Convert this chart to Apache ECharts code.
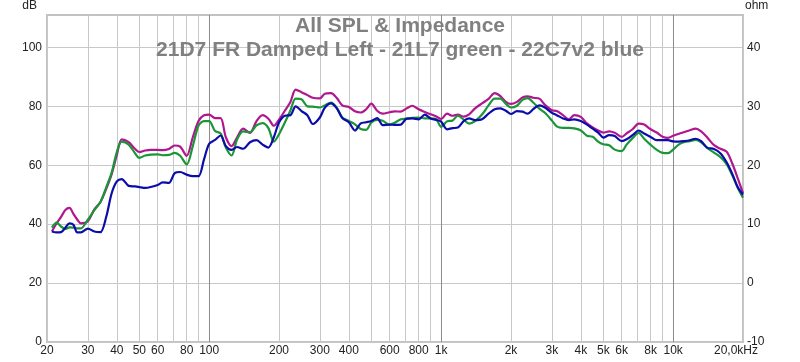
<!DOCTYPE html>
<html>
<head>
<meta charset="utf-8">
<script src="https://cdn.jsdelivr.net/npm/echarts@6/dist/echarts.min.js"></script>
<style>
html,body{margin:0;padding:0;background:#fff;}
#chart{width:800px;height:362px;}
</style>
</head>
<body>
<div id="chart"></div>
<script>
const titleLines = ['All SPL & Impedance', '21D7 FR Damped Left - 21L7 green - 22C7v2 blue'];

const freqHz = [21,22,23,24,25,26,27,28,30,32,34,36,38,40,42,45,48,50,53,56,60,63,67,71,75,80,85,90,95,
  100,106,112,118,125,132,140,150,160,170,180,190,200,212,224,236,250,265,280,300,315,335,355,375,400,425,450,475,500,530,560,600,630,670,710,750,800,850,900,950,
  1000,1060,1120,1180,1250,1320,1400,1500,1600,1700,1800,1900,2000,2120,2240,2360,2500,2650,2800,3000,3150,3350,3550,3750,4000,4250,4500,4750,5000,5300,5600,6000,6300,6700,7100,7500,8000,8500,9000,9500,
  10000,10600,11200,11800,12500,13200,14000,15000,16000,17000,18000,19000,20000];

const magentaDb = [37.5,40.3,42.5,44.8,45.5,43.5,41.6,40.3,41,45,47.5,52,57,63.5,68.8,67.8,65.5,64.5,65,65.2,65.2,65.1,65.5,66.7,66.3,63.2,69.5,75,77,
  77.2,76,76,69.5,66.5,69.5,72.4,71,75,77,75.8,73.4,75.5,78.5,81.5,85.7,84.8,83.8,82.9,82.7,84.3,84.5,82.8,80.3,79.8,78.3,77.9,79,80.9,78.5,77.5,78,78.3,78.2,79.3,80.2,79,78.1,77.3,76.6,
  75.7,77.5,76.8,77.2,76.5,77.3,79.3,81,82.5,84.5,83.5,81.5,80.8,81.5,83,83.4,82.9,82.6,80.5,78.7,78.4,77,75.6,77,76.4,74.2,72.8,71.8,71.1,71.5,71,69.6,70.8,72.3,74.1,73.8,72.2,71.1,69.7,69.3,
  70,70.7,71.3,71.9,72.4,71.5,69.5,66.8,65.6,64.6,60.5,55.5,50.5];

const greenDb = [38.8,40.5,39.2,38.4,38.9,38.8,38.6,38.6,41.5,44.8,47.5,52.5,57.5,64.5,68,67,64,62.5,63.3,63.6,63.7,63.4,63.5,64.2,63.2,60.3,66.5,73.5,75,
  75,71.6,70.8,66,63.3,68.8,71.5,71.2,73.5,74.3,72.6,68,70.5,74.5,78.6,82.6,82.4,80,79.9,79.6,80.3,81.3,79.5,76.2,75,73.9,72.3,72,74.5,75.4,75.1,73.8,74.4,75.6,75.8,76.1,76.2,75.9,75.9,75.7,
  73,74.9,75.2,76.8,75.5,74.1,75,77.2,80.3,82.6,82.6,80.8,79.6,80.2,82.2,82.8,81.2,79.2,77.8,75.2,73.2,72.7,72.7,72.5,71.8,70,69.7,68,67.1,66.8,65.3,64.8,67,69.3,71,69,66.9,65.2,64.2,64.1,
  65.3,67.1,67.9,68.2,68.6,67.8,65.9,64.3,62.7,60.4,56.5,52.3,49];

const blueDb = [37.5,37.2,37.3,38.8,40.3,39.8,37.2,37.2,38.5,37.5,37.3,42.5,50.5,54.5,55.3,53,52.8,52.6,52.3,52.6,53.3,54.2,54,57.3,57.7,56.8,56.3,56.3,62,
  67.3,68.6,70.1,66.5,65.2,66.2,65.6,67.8,68.5,67,66,69.5,74.5,76.8,77,80,78.4,77,74,76.2,79.5,81,79.3,76,74.6,71.8,74.2,74.6,75,76,73.6,73.8,73.7,73.8,75.8,75.9,75.6,77.2,75.9,75.4,
  74.8,72.2,72.6,72.8,75,75.9,75.3,75.6,77.5,79,79.3,78.5,77.4,78.4,78.2,77.5,79.1,80.3,79.6,77.8,77,75.9,75.3,75.6,75,73.8,72.4,71.1,69.4,70.2,69.9,68.2,68.8,70.3,71.8,70.8,69.6,68.5,68.5,68.5,
  68.1,68,68.2,68.5,69,68.2,66,65.5,64,61,57,52.5,50];

const xGridHz = [20,30,40,50,60,70,80,90,100,200,300,400,500,600,700,800,900,1000,2000,3000,4000,5000,6000,7000,8000,9000,10000,20000];
const xLabelHz = [20,30,40,50,60,80,100,200,300,400,600,800,1000,2000,3000,4000,5000,6000,8000,10000,20000];
const xLabelText = ['20','30','40','50','60','80','100','200','300','400','600','800','1k','2k','3k','4k','5k','6k','8k','10k','20,0kHz'];
const decadeHz = [100, 1000, 10000];

const gridColors = xGridHz.map(f => decadeHz.indexOf(f) >= 0 ? '#8c8c8c' : '#c8c8c8');

const chart = echarts.init(document.getElementById('chart'), null, {renderer: 'canvas'});
const font = 'Liberation Sans, Arial, sans-serif';

function mk(name, color, vals) {
  return {
    name: name, type: 'line', yAxisIndex: 0,
    data: freqHz.map((f, i) => [f, vals[i]]),
    showSymbol: false, smooth: 0.3,
    lineStyle: {color: color, width: 2.2},
    itemStyle: {color: color},
    animation: false, z: 3
  };
}

chart.setOption({
  animation: false,
  backgroundColor: '#ffffff',
  title: {
    text: titleLines.join('\n'),
    left: 'center', top: 14, padding: 0,
    textStyle: {fontFamily: font, fontSize: 21, fontWeight: 'bold', color: '#808080', lineHeight: 24}
  },
  grid: {left: 47, top: 14, width: 696, height: 328, show: true, borderColor: '#c2c2c2', borderWidth: 2, backgroundColor: 'transparent'},
  xAxis: {
    type: 'log', logBase: 10, min: 20, max: 20000,
    axisLine: {show: false},
    axisTick: {show: false, customValues: xGridHz},
    axisLabel: {
      customValues: xLabelHz, margin: 3,
      fontFamily: font, fontSize: 12, color: '#222',
      formatter: v => {
        const i = xLabelHz.findIndex(h => Math.abs(h - v) < 1e-6 * h);
        if (i < 0) return '';
        return i === xLabelHz.length - 1 ? '{last|' + xLabelText[i] + '}' : xLabelText[i];
      },
      rich: {last: {fontFamily: font, fontSize: 12, color: '#222', padding: [0, 14, 0, 0]}}
    },
    splitLine: {show: true, lineStyle: {color: gridColors, width: 1}}
  },
  yAxis: [
    {
      type: 'value', min: 0, max: 111, interval: 20, position: 'left',
      name: 'dB', nameLocation: 'end', nameGap: 3,
      nameTextStyle: {fontFamily: font, fontSize: 12, color: '#222', align: 'right', padding: [0, 10, 0, 0]},
      axisLine: {show: false}, axisTick: {show: false},
      axisLabel: {showMaxLabel: false, margin: 5, fontFamily: font, fontSize: 12, color: '#222'},
      splitLine: {show: true, showMaxLine: false, lineStyle: {color: '#c8c8c8', width: 1}}
    },
    {
      type: 'value', min: -10, max: 45.5, interval: 10, position: 'right',
      name: 'ohm', nameLocation: 'end', nameGap: 3,
      nameTextStyle: {fontFamily: font, fontSize: 12, color: '#222', align: 'left', padding: [0, 0, 0, 2]},
      axisLine: {show: false}, axisTick: {show: false},
      axisLabel: {showMaxLabel: false, margin: 4, fontFamily: font, fontSize: 12, color: '#222'},
      splitLine: {show: false}
    }
  ],
  series: [
    mk('21D7 FR Damped Left', '#b0178f', magentaDb),
    mk('21L7', '#1a9638', greenDb),
    mk('22C7v2', '#0c0caa', blueDb)
  ]
});
</script>
</body>
</html>
